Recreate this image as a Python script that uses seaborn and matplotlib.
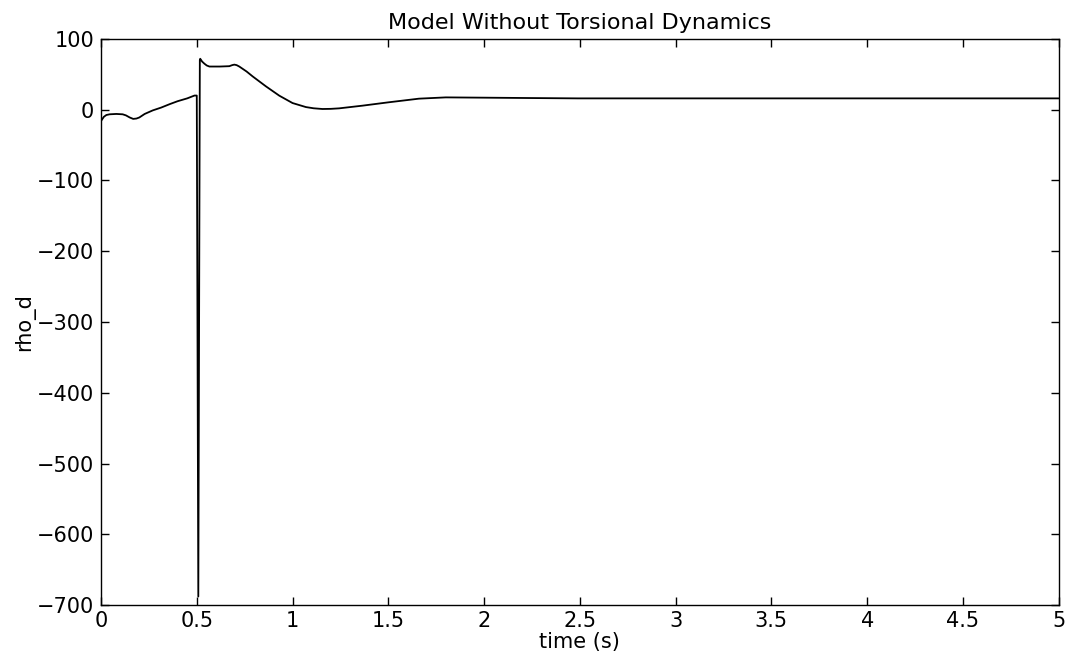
import matplotlib
matplotlib.use("Agg")
import matplotlib.pyplot as plt
import seaborn as sns
import pandas as pd

# Values
time_s = [0.000, 0.005, 0.015, 0.028, 0.045, 0.080, 0.113, 0.130, 0.150, 0.168,
          0.185, 0.200, 0.228, 0.270, 0.314, 0.360, 0.400, 0.450, 0.488, 0.500,
          0.508, 0.516, 0.518, 0.528, 0.540, 0.552, 0.566, 0.620, 0.670, 0.685,
          0.696, 0.708, 0.722, 0.760, 0.792, 0.861, 0.931, 1.000, 1.070, 1.110,
          1.156, 1.200, 1.243, 1.365, 1.500, 1.660, 1.800, 2.000, 2.230, 2.490,
          3.000, 3.500, 4.000, 4.500, 5.000]
rho_d = [-16, -14, -10, -7.5, -6.5, -6, -6.5, -8, -11, -13,
         -12.5, -11, -6, -1, 3, 8, 12, 16, 20, 20,
         -688, 70, 72, 68, 65, 62.5, 61, 61, 61.5, 63,
         63.7, 63, 61, 54, 47, 33, 19.8, 9.4, 3.7, 2,
         1, 1.2, 1.9, 5.7, 10.4, 15.6, 17.4, 17, 16.5, 16,
         16, 16, 16, 16, 16]

x_ticks = [0, 0.5, 1, 1.5, 2, 2.5, 3, 3.5, 4, 4.5, 5]
x_tick_labels = ["0", "0.5", "1", "1.5", "2", "2.5", "3", "3.5", "4", "4.5", "5"]
y_ticks = [-700, -600, -500, -400, -300, -200, -100, 0, 100]
y_tick_labels = ["\u2212700", "\u2212600", "\u2212500", "\u2212400", "\u2212300",
                 "\u2212200", "\u2212100", "0", "100"]

sns.set_style("ticks")
plt.rcParams["font.family"] = ["DejaVu Sans"]
plt.rcParams["text.color"] = "black"
plt.rcParams["axes.labelcolor"] = "black"

df = pd.DataFrame({"time": time_s, "rho_d": rho_d})

fig = plt.figure(figsize=(10.7, 6.6), dpi=100)
ax = fig.add_axes([0.0944, 0.0833, 0.8950, 0.8577])
sns.lineplot(data=df, x="time", y="rho_d", ax=ax, color="black", linewidth=1.3,
             sort=False, estimator=None)

ax.set_xlim(0, 5)
ax.set_ylim(-700, 100)
ax.set_xticks(x_ticks)
ax.set_xticklabels(x_tick_labels)
ax.set_yticks(y_ticks)
ax.set_yticklabels(y_tick_labels)
ax.tick_params(direction="in", length=6, width=1, top=True, right=True,
               labelsize=15, colors="black", pad=5)
ax.tick_params(axis="x", pad=4)
for s in ax.spines.values():
    s.set_visible(True)
    s.set_linewidth(1.0)
    s.set_color("black")

ax.set_title("Model Without Torsional Dynamics", fontsize=16, pad=7, color="black")
ax.set_xlabel("time (s)", fontsize=15, labelpad=1)
ax.set_ylabel("rho_d", fontsize=15, labelpad=1)

fig.savefig("out.png", dpi=100, facecolor="white")
